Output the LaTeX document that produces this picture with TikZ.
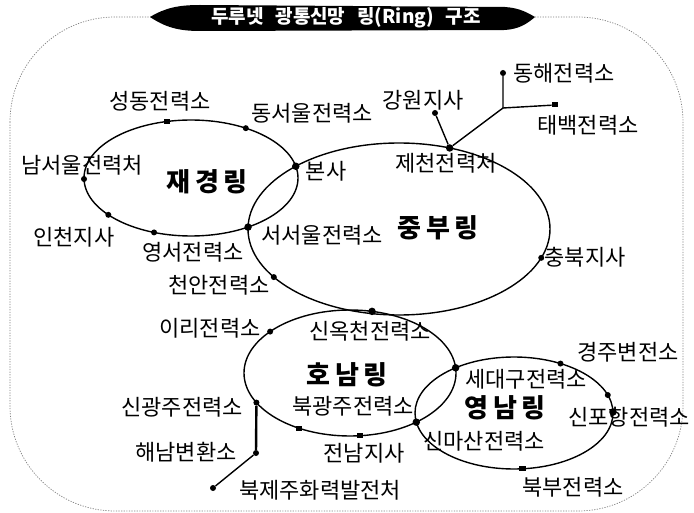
\documentclass[tikz,border=0pt]{standalone}
\usepackage{fontspec}
\setmainfont{Noto Sans CJK KR}
\usetikzlibrary{calc,intersections}
\begin{document}
\begin{tikzpicture}[x=1pt,y=-1pt,
  ring/.style={line width=1.4pt},
  link/.style={line width=1.4pt},
  lbl/.style={font=\fontsize{22}{24}\selectfont, inner sep=0pt},
  ringlbl/.style={font=\fontsize{26}{28}\selectfont\bfseries, inner sep=0pt},
  dot/.style={circle,fill,inner sep=0pt,minimum size=6pt},
  jdot/.style={circle,fill,inner sep=0pt,minimum size=7.5pt},
  sq/.style={rectangle,fill,inner sep=0pt,minimum width=6.5pt,minimum height=5pt},
]
\useasboundingbox (0,0) rectangle (694,513);
\fill[white] (0,0) rectangle (694,513);
% frame
\draw[gray, line width=0.7pt, dash pattern=on 1.2pt off 1.4pt, rounded corners=105pt] (10,17) rectangle (683,511);
% title banner
\fill[black] (150,17) .. controls (165,8) and (178,5) .. (200,5) -- (505,7)
  .. controls (520,8) and (528,13) .. (535,17)
  .. controls (528,23) and (520,29) .. (505,30) -- (200,31)
  .. controls (178,31) and (165,27) .. (150,17) -- cycle;
\node[font=\fontsize{19}{21}\selectfont\bfseries, text=white, inner sep=0pt] (title) at (346,18) {두루넷\hspace{12pt}광통신망\hspace{12pt}링(Ring)\hspace{12pt}구조};

% ring centres
\coordinate (jkc) at (191,178);
\coordinate (jbc) at (399,229);
\coordinate (hnc) at (350,373);
\coordinate (ync) at (514,413);

\draw[ring, name path=jk] (jkc) ellipse [x radius=107pt, y radius=58pt];
\draw[ring, name path=jb] (jbc) ellipse [x radius=151pt, y radius=86pt];
\draw[ring, name path=hn] (hnc) ellipse [x radius=106pt, y radius=63pt];
\draw[ring, name path=yn] (ync) ellipse [x radius=99pt, y radius=56pt];

% junctions of rings
\path[name intersections={of=jk and jb, name=a}];
\node[jdot] (bonsa) at (a-1) {};
\node[jdot] (seoseoul) at (a-2) {};
\path[name intersections={of=hn and yn, name=b}];
\node[jdot] (sedaegu) at (b-1) {};
\node[jdot] (sinmasan) at (b-2) {};

% dots on 재경링
\node[sq]  (seongdong) at ($(jkc)+(102.9:107pt and 58pt)$) {};
\node[dot] (dongseoul) at ($(jkc)+(59.2:107pt and 58pt)$) {};
\node[dot] (namseoul)  at ($(jkc)+(181:107pt and 58pt)$) {};
\node[dot] (incheon)   at ($(jkc)+(219.4:107pt and 58pt)$) {};
\node[dot] (yeongseo)  at ($(jkc)+(249.8:107pt and 58pt)$) {};
% dots on 중부링
\node[dot]  (cheonan)  at ($(jbc)+(214:151pt and 86pt)$) {};
\node[dot]  (chungbuk) at ($(jbc)+(340.4:151pt and 86pt)$) {};
\node[jdot] (jecheon)  at ($(jbc)+(70.4:151pt and 86pt)$) {};
% dots on 호남링
\node[jdot] (sinokcheon) at ($(hnc)+(78:106pt and 63pt)$) {};
\node[dot]  (iri)        at ($(hnc)+(138.9:106pt and 63pt)$) {};
\node[dot]  (singwangju) at ($(hnc)+(208:106pt and 63pt)$) {};
\node[sq]   (jeonnam1)   at ($(hnc)+(241.1:106pt and 63pt)$) {};
\node[sq]   (jeonnam2)   at ($(hnc)+(275.5:106pt and 63pt)$) {};
% dots on 영남링
\node[dot]  (gyeongju) at ($(ync)+(62:99pt and 56pt)$) {};
\node[dot]  (ynr)      at ($(ync)+(18.7:99pt and 56pt)$) {};
\node[jdot] (sinpohang) at ($(ync)+(1:99pt and 56pt)$) {};
\node[sq]   (bukbu)    at ($(ync)+(275:99pt and 56pt)$) {};

% branches
\node[dot] (gangwon) at (435,113) {};
\coordinate (br) at (503,108);
\node[dot] (donghae) at (503,73) {};
\node[sq] (taebaek) at (555,105) {};
\draw[link] (jecheon) -- (gangwon);
\draw[link] (jecheon) -- (br) -- (donghae);
\draw[link] (br) -- (taebaek);

\node[dot] (haenam) at (256,453) {};
\node[dot] (bukjeju) at (213,488) {};
\draw[line width=2.4pt] (singwangju) -- (haenam);
\draw[link] (haenam) -- (bukjeju);

% labels
\node[lbl] (t-seongdong) at (160,101) {성동전력소};
\node[lbl] (t-dongseoul) at (312,113) {동서울전력소};
\node[lbl] (t-namseoul) at (82,165) {남서울전력처};
\node[ringlbl] (t-jk) at (207,182) {재\hspace{5pt}경\hspace{5pt}링};
\node[lbl] (t-incheon) at (74,237) {인천지사};
\node[lbl] (t-yeongseo) at (193,252) {영서전력소};
\node[lbl] (t-cheonan) at (219,285) {천안전력소};
\node[lbl] (t-bonsa) at (326,171) {본사};
\node[lbl] (t-seoseoul) at (322,235) {서서울전력소};
\node[ringlbl] (t-jb) at (438,228) {중\hspace{5pt}부\hspace{5pt}링};
\node[lbl] (t-gangwon) at (423,100) {강원지사};
\node[lbl] (t-jecheon) at (446,163) {제천전력처};
\node[lbl] (t-donghae) at (564,73) {동해전력소};
\node[lbl] (t-taebaek) at (588,125) {태백전력소};
\node[lbl] (t-chungbuk) at (585,257) {충북지사};
\node[lbl] (t-iri) at (210,328) {이리전력소};
\node[lbl] (t-sinokcheon) at (370,331) {신옥천전력소};
\node[ringlbl] (t-hn) at (347,375) {호\hspace{5pt}남\hspace{5pt}링};
\node[lbl] (t-singwangju) at (182,407) {신광주전력소};
\node[lbl] (t-bukgwangju) at (353,406) {북광주전력소};
\node[lbl] (t-haenam) at (186,452) {해남변환소};
\node[lbl] (t-jeonnam) at (364,453) {전남지사};
\node[lbl] (t-bukjeju) at (320,490) {북제주화력발전처};
\node[lbl] (t-sedaegu) at (526,379) {세대구전력소};
\node[ringlbl] (t-yn) at (505,408) {영\hspace{5pt}남\hspace{5pt}링};
\node[lbl] (t-sinpohang) at (629,417) {신포항전력소};
\node[lbl] (t-gyeongju) at (628,352) {경주변전소};
\node[lbl] (t-sinmasan) at (484,441) {신마산전력소};
\node[lbl] (t-bukbu) at (573,487) {북부전력소};
\end{tikzpicture}
\end{document}
